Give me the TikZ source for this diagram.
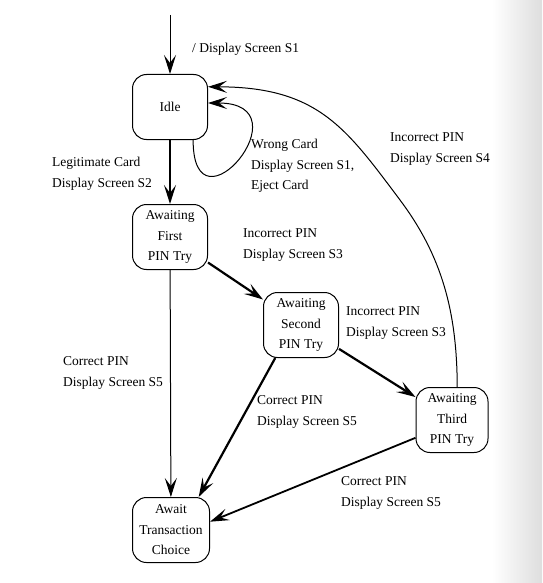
\documentclass[tikz,border=0pt]{standalone}
\usepackage{fontspec}
\setmainfont{Liberation Serif}
\usetikzlibrary{arrows.meta}
\newcommand{\atmfont}{\fontsize{13.5}{20.5}\selectfont}

\begin{document}
\begin{tikzpicture}[x=1pt, y=-1pt,
    state/.style={draw, line width=1pt, rounded corners=14pt, align=center,
                  minimum width=75pt, minimum height=65pt, inner sep=1pt, font=\atmfont},
    lbl/.style={align=left, anchor=west, inner sep=0pt, font=\atmfont},
    arr/.style={-{Stealth[length=19pt, width=12pt, inset=8pt]}, line width=1pt},
    heavy/.style={arr, line width=2.2pt}
  ]
  \useasboundingbox (0,0) rectangle (542,583);
  % scanner shadow on the right edge
  \shade[left color=white, right color=black!13] (492,0) rectangle (542,583);

  \node[state] (idle) at (170,107) {Idle};
  \node[state] (first) at (170,237) {Awaiting\\ First\\ PIN Try};
  \node[state] (second) at (301,325) {Awaiting\\ Second\\ PIN Try};
  \node[state, minimum width=72pt] (third) at (452,420) {Awaiting\\ Third\\ PIN Try};
  \node[state, minimum width=77pt] (trans) at (171,530) {Await\\ Transaction\\ Choice};

  \coordinate (init) at (170,15);
  \coordinate (bend) at (400,200);

  \node[lbl] (linit) at (192,49) {/ Display Screen S1};
  \node[lbl] (lwrong) at (251,166) {Wrong Card\\ Display Screen S1,\\ Eject Card};
  \node[lbl] (llegit) at (52,174) {Legitimate Card\\ Display Screen S2};
  \node[lbl] (linc1) at (243,245) {Incorrect PIN\\ Display Screen S3};
  \node[lbl] (linc2) at (346,323) {Incorrect PIN\\ Display Screen S3};
  \node[lbl] (linc3) at (390,149) {Incorrect PIN\\ Display Screen S4};
  \node[lbl] (lok1) at (63,373) {Correct PIN\\ Display Screen S5};
  \node[lbl] (lok2) at (257,412) {Correct PIN\\ Display Screen S5};
  \node[lbl] (lok3) at (341,493) {Correct PIN\\ Display Screen S5};

  \draw[arr] (init) -- (idle);
  \draw[arr, line width=1.4pt] (idle) -- (first);
  \draw[arr] (idle.-55) .. controls +(0,100) and +(100,0) .. (idle.6);
  \draw[heavy] (first) -- (second);
  \draw[heavy] (second) -- (third);
  \draw[arr] (first) -- (trans);
  \draw[heavy] (second.232) -- (trans.50);
  \draw[arr, line width=1.8pt] (third.206) -- (trans.12);
  \draw[arr] (third.81) .. controls (457,312) and (442,256) .. (bend)
             .. controls (346,128) and (318,87) .. (idle.28);
\end{tikzpicture}
\end{document}
